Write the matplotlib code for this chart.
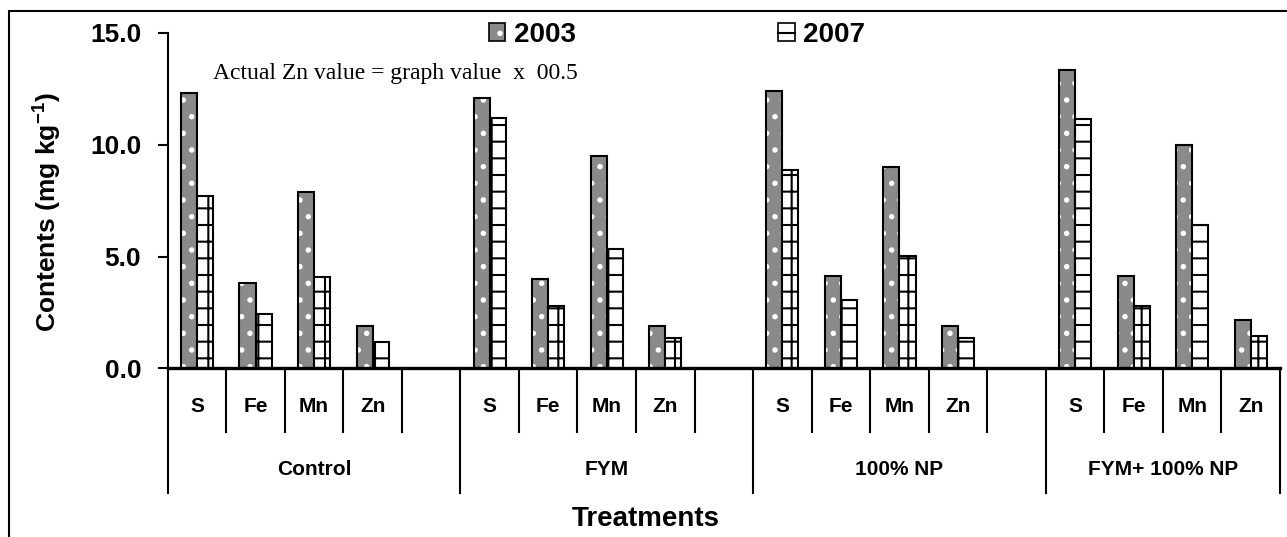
import matplotlib
matplotlib.use('Agg')
import matplotlib.pyplot as plt
from matplotlib.patches import Patch, Rectangle
from matplotlib.lines import Line2D
import numpy as np

plt.rcParams['font.family'] = ['Liberation Sans', 'DejaVu Sans']
plt.rcParams['mathtext.fontset'] = 'custom'
plt.rcParams['mathtext.bf'] = 'Liberation Sans:bold'
plt.rcParams['mathtext.rm'] = 'Liberation Sans:bold'
plt.rcParams['hatch.linewidth'] = 1.5

# данные
treatments = ['Control', 'FYM', '100% NP', 'FYM+ 100% NP']
elements = ['S', 'Fe', 'Mn', 'Zn']
years = ['2003', '2007']
values_2003 = [
    [12.3, 3.8, 7.9, 1.9],
    [12.1, 4.0, 9.5, 1.9],
    [12.4, 4.12, 9.0, 1.9],
    [13.35, 4.15, 9.97, 2.15],
]
values_2007 = [
    [7.7, 2.43, 4.08, 1.19],
    [11.2, 2.79, 5.34, 1.36],
    [8.88, 3.07, 5.04, 1.36],
    [11.15, 2.79, 6.4, 1.45],
]
y_ticks = [0, 5, 10, 15]

W, H = 1287, 537
fig = plt.figure(figsize=(W / 100, H / 100), dpi=100)
fig.patch.set_facecolor('white')

# область графика в пикселях исходника
x0, x1 = 167.7, 1280
y_top, y_zero = 33, 368.3
ax = fig.add_axes([x0 / W, 1 - y_zero / H, (x1 - x0) / W, (y_zero - y_top) / H])

# позиции слотов: 5 слотов на обработку (последний пустой), у последней 4
slots_per_group = 5
n_slots = slots_per_group * (len(treatments) - 1) + len(elements)
centers = []
for t in range(len(treatments)):
    for j in range(len(elements)):
        centers.append(t * slots_per_group + j + 0.5)
centers = np.array(centers)
v03 = np.array(values_2003).ravel()
v07 = np.array(values_2007).ravel()

w = 0.274
grey = '#8a8a8a'
# 2003: серый с белыми точками
ax.bar(centers - w / 2, v03, w, color=grey, edgecolor='white', hatch='.', linewidth=0)
ax.bar(centers - w / 2, v03, w, fill=False, edgecolor='black', linewidth=1.5)
# 2007: белый с сеткой
ax.bar(centers + w / 2, v07, w, color='white', edgecolor='black', hatch='+', linewidth=0)
ax.bar(centers + w / 2, v07, w, fill=False, edgecolor='black', linewidth=1.5)

ax.set_xlim(0, n_slots)
ax.set_ylim(0, 15)
ax.set_yticks(y_ticks)
ax.set_yticklabels([f'{v:.1f}' for v in y_ticks], fontsize=19, fontweight='bold')
ax.tick_params(axis='y', direction='out', length=7, width=1.5, pad=12)
ax.set_xticks([])
ax.spines['top'].set_visible(False)
ax.spines['right'].set_visible(False)
ax.spines['left'].set_linewidth(1.5)
ax.spines['bottom'].set_linewidth(2.4)

# многоуровневая ось категорий
trans = ax.get_xaxis_transform()
plot_h = y_zero - y_top
row1 = -(431.7 - y_zero) / plot_h
row2 = -(493 - y_zero) / plot_h
group_edges = [t * slots_per_group for t in range(len(treatments))] + [n_slots]
for b in range(n_slots + 1):
    bottom = row2 if b in group_edges else row1
    ax.plot([b, b], [0, bottom], transform=trans, color='black', lw=1.5, clip_on=False)

for c, lab in zip(centers, elements * len(treatments)):
    ax.text(c, -(406.5 - y_zero) / plot_h, lab, transform=trans, ha='center', va='center',
            fontsize=15, fontweight='bold')
for t, name in enumerate(treatments):
    mid = (group_edges[t] + group_edges[t + 1]) / 2
    ax.text(mid, -(469.5 - y_zero) / plot_h, name, transform=trans, ha='center', va='center',
            fontsize=15, fontweight='bold')

fig.text(646 / W, 1 - 519 / H, 'Treatments', ha='center', va='center', fontsize=20, fontweight='bold')
fig.text(47 / W, 1 - 212 / H, r'Contents (mg kg$^{\mathbf{-1}}$)', rotation=90,
         ha='center', va='center', fontsize=19, fontweight='bold')

fig.text(213 / W, 1 - 74 / H, 'Actual Zn value = graph value  x  00.5', ha='left', va='center',
         fontsize=17, family='Liberation Serif')

# легенда
h03 = (Patch(facecolor=grey, edgecolor='white', hatch='.', linewidth=0),
       Patch(fill=False, edgecolor='black', linewidth=1.2))
h07 = (Patch(facecolor='white', edgecolor='black', linewidth=1.2),
       Line2D([], [], color='black', linewidth=1.5))
fig.legend([h03, h07], years, ncol=2, loc='center', bbox_to_anchor=(677 / W, 1 - 35 / H),
           frameon=False, handlelength=0.6, handleheight=0.6, handletextpad=0.3,
           columnspacing=7.3, prop={'weight': 'bold', 'size': 20})

# рамка всей диаграммы
fig.add_artist(Rectangle((9 / W, -0.2), 1.2, 1.2 - 11 / H, transform=fig.transFigure,
                         fill=False, edgecolor='black', linewidth=1.5))

plt.savefig('out.png', dpi=100)
plt.close()
